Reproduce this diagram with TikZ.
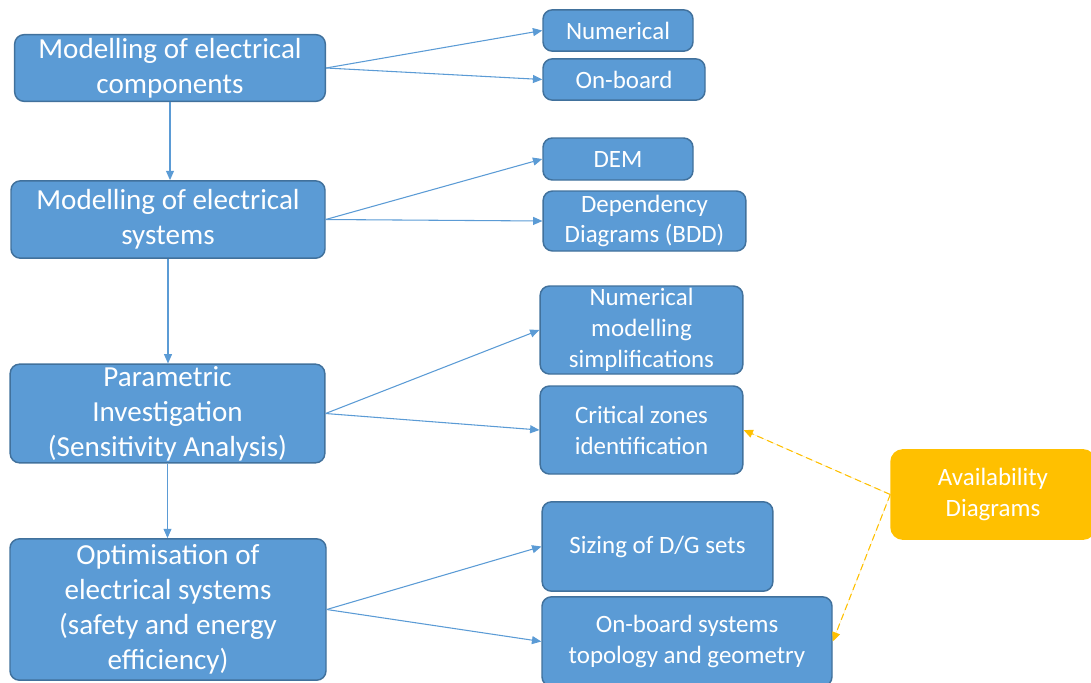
\documentclass[tikz,border=0pt]{standalone}
\usepackage{fontspec}
\setmainfont{Carlito}
\usetikzlibrary{arrows.meta}
\definecolor{boxblue}{HTML}{5B9BD5}
\definecolor{boxedge}{HTML}{41719C}
\definecolor{availorange}{HTML}{FFC000}

\begin{document}
\begin{tikzpicture}[x=0.75pt,y=0.75pt]
	\tikzstyle{blockbox}=[draw=boxedge,fill=boxblue,line width=1.1pt,rounded corners=7pt,text=white,align=center,inner sep=0pt]
	\tikzstyle{mainbox}=[blockbox,font=\fontsize{21.8}{26.3}\selectfont]
	\tikzstyle{subbox}=[blockbox,font=\fontsize{18.7}{23.2}\selectfont]
	\tikzstyle{feed}=[draw=boxblue,line width=0.8pt,-{Triangle[length=7pt,width=6pt]}]
	\tikzstyle{avail}=[draw=availorange,fill=availorange,line width=0.8pt,dash pattern=on 5pt off 3pt,-{Triangle[length=7pt,width=6pt]}]
	\useasboundingbox (0,0) rectangle (1091,-682);
	\node[mainbox,minimum width=233pt,minimum height=50pt] (comp) at (170,-68) {Modelling of electrical\\components};
	\node[mainbox,minimum width=235.5pt,minimum height=58pt] (sys) at (168,-219.5) {Modelling of electrical\\systems};
	\node[mainbox,minimum width=236pt,minimum height=74pt] (param) at (167.5,-413.5) {Parametric\\Investigation\\(Sensitivity Analysis)};
	\node[mainbox,minimum width=237pt,minimum height=106pt] (optim) at (168,-609.5) {Optimisation of\\electrical systems\\(safety and energy\\efficiency)};
	\node[subbox,minimum width=112.5pt,minimum height=31pt] (numer) at (618,-30.5) {Numerical};
	\node[subbox,minimum width=121.5pt,minimum height=31pt] (onboard) at (624,-79.5) {On-board};
	\node[subbox,minimum width=112.5pt,minimum height=31.5pt] (dem) at (618,-159) {DEM};
	\node[subbox,minimum width=152pt,minimum height=45pt] (bdd) at (644.5,-221) {Dependency\\Diagrams (BDD)};
	\node[subbox,minimum width=152pt,minimum height=66pt] (simpl) at (641.5,-330) {Numerical\\modelling\\simplifications};
	\node[subbox,minimum width=152pt,minimum height=66pt] (zones) at (641.5,-430) {Critical zones\\identification};
	\node[subbox,minimum width=173pt,minimum height=67pt] (sizing) at (657.5,-546.5) {Sizing of D/G sets};
	\node[subbox,minimum width=217.5pt,minimum height=67pt] (topo) at (687,-641.5) {On-board systems\\topology and geometry};
	\node[subbox,draw=availorange,fill=availorange,rounded corners=9pt,minimum width=153pt,minimum height=67pt] (availdiag) at (993,-494.5) {Availability\\Diagrams};
	\draw[feed] (comp.south) -- (comp.south |- sys.north);
	\draw[feed] (sys.south) -- (sys.south |- param.north);
	\draw[feed] (param.south) -- (param.south |- optim.north);
	\draw[feed] (comp.east) -- (numer.west);
	\draw[feed] (comp.east) -- (onboard.west);
	\draw[feed] (sys.east) -- (dem.west);
	\draw[feed] (sys.east) -- (bdd.west);
	\draw[feed] (param.east) -- (simpl.west);
	\draw[feed] (param.east) -- (zones.west);
	\draw[feed] (optim.east) -- (sizing.west);
	\draw[feed] (optim.east) -- (topo.west);
	\draw[avail] (availdiag.west) -- (zones.east);
	\draw[avail] (availdiag.west) -- (topo.east);
\end{tikzpicture}
\end{document}
